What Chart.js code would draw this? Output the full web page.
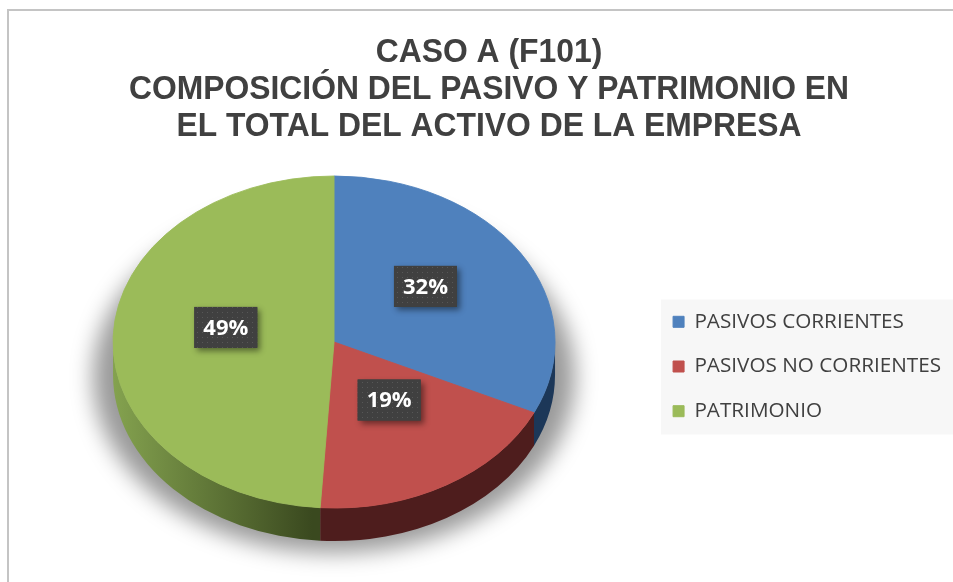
<!DOCTYPE html>
<html><head><meta charset="utf-8">
<script src="https://cdn.jsdelivr.net/npm/chart.js@4/dist/chart.umd.min.js"></script>
<style>html,body{margin:0;padding:0;background:#fff;overflow:hidden}canvas{display:block}</style>
</head><body>
<canvas id="c" width="953" height="582"></canvas>
<script>
// ---- data ----
const titleLines = ['CASO A (F101)', 'COMPOSICIÓN DEL PASIVO Y PATRIMONIO EN', 'EL TOTAL DEL ACTIVO DE LA EMPRESA'];
const categories = ['PASIVOS CORRIENTES', 'PASIVOS NO CORRIENTES', 'PATRIMONIO'];
const shares = [32, 19, 49];
const topColors = ['#4f81bd', '#c0504d', '#9bbb59'];
const sideLight = ['#24446b', '#56201f', '#84a24f'];
const sideDark = ['#1c3758', '#4e1d1d', '#3a491f'];

// ---- 3D look ----
const RADIUS = 221;
const TILT = 166 / 221;
const CENTER_Y = 342;
const DEPTH = 33;
const LABEL_FRAC = 0.49;
const LABEL_SHIFT = -12;

function dotPattern(ctx) {
  const c = document.createElement('canvas');
  c.width = 5; c.height = 5;
  const p = c.getContext('2d');
  p.fillStyle = '#404040'; p.fillRect(0, 0, 5, 5);
  p.fillStyle = '#575757'; p.fillRect(2, 2, 1, 1);
  return ctx.createPattern(c, 'repeat');
}

const pie3d = {
  id: 'pie3d',
  beforeDraw(chart) {
    const ctx = chart.ctx;
    ctx.save();
    ctx.fillStyle = '#ffffff';
    ctx.fillRect(0, 0, chart.width, chart.height);
    // chart frame
    ctx.fillStyle = '#c4c4c4';
    ctx.fillRect(7, 9, chart.width - 7, 2);
    ctx.fillRect(7, 9, 2, chart.height - 9);
    // legend panel
    const lg = chart.legend;
    if (lg && lg.legendHitBoxes && lg.legendHitBoxes.length) {
      const hb = lg.legendHitBoxes;
      const f = hb[0], l = hb[hb.length - 1];
      ctx.fillStyle = '#f7f7f7';
      ctx.fillRect(f.left - 12, f.top - 12, chart.width - f.left + 12, l.top + l.height - f.top + 25);
    }
    // title (slightly condensed bold sans)
    ctx.fillStyle = '#404040';
    ctx.font = 'bold 33px "Liberation Sans", Arial, sans-serif';
    ctx.textAlign = 'center';
    ctx.textBaseline = 'alphabetic';
    titleLines.forEach((t, i) => {
      ctx.save();
      ctx.translate(489, 62 + i * 37);
      ctx.scale(0.965, 1);
      ctx.fillText(t, 0, 0);
      ctx.restore();
    });
    ctx.restore();
  },
  beforeDatasetsDraw(chart) {
    const ctx = chart.ctx;
    const arcs = chart.getDatasetMeta(0).data;
    if (!arcs.length) return;
    const cx = arcs[0].x, R = arcs[0].outerRadius, RY = R * TILT;
    ctx.save();
    // soft shadow under the pie (shape drawn off-canvas, only its shadow lands here)
    ctx.save();
    const OFF = 3000;
    ctx.shadowColor = 'rgba(0,0,0,0.40)';
    ctx.shadowBlur = 22;
    ctx.shadowOffsetX = OFF;
    ctx.shadowOffsetY = 0;
    ctx.fillStyle = '#000';
    ctx.beginPath();
    ctx.ellipse(cx - OFF, CENTER_Y + DEPTH + 2, R + 20, RY + 10, 0, 0, Math.PI * 2);
    ctx.fill();
    ctx.restore();
    // side walls (front half)
    arcs.forEach((arc, i) => {
      const a1 = Math.max(arc.startAngle, 0);
      const a2 = Math.min(arc.endAngle, Math.PI);
      if (a2 <= a1) return;
      const g = ctx.createLinearGradient(cx - R, 0, cx + R, 0);
      g.addColorStop(0, sideLight[i]);
      g.addColorStop(0.45, sideDark[i]);
      g.addColorStop(1, sideDark[i]);
      ctx.fillStyle = g;
      ctx.beginPath();
      ctx.ellipse(cx, CENTER_Y, R, RY, 0, a1, a2);
      ctx.lineTo(cx + R * Math.cos(a2), CENTER_Y + DEPTH + RY * Math.sin(a2));
      ctx.ellipse(cx, CENTER_Y + DEPTH, R, RY, 0, a2, a1, true);
      ctx.closePath();
      ctx.fill();
    });
    ctx.restore();
    // squash the top face
    ctx.save();
    ctx.translate(0, CENTER_Y);
    ctx.scale(1, TILT);
    ctx.translate(0, -arcs[0].y);
  },
  afterDatasetsDraw(chart) {
    const ctx = chart.ctx;
    ctx.restore();
    const arcs = chart.getDatasetMeta(0).data;
    const vals = chart.data.datasets[0].data;
    const pat = dotPattern(ctx);
    arcs.forEach((arc, i) => {
      const mid = (arc.startAngle + arc.endAngle) / 2;
      const R = arc.outerRadius;
      const x = arc.x + Math.cos(mid) * R * LABEL_FRAC;
      const y = CENTER_Y + Math.sin(mid) * R * TILT * LABEL_FRAC + LABEL_SHIFT;
      const w = 63, h = 41;
      ctx.save();
      ctx.shadowColor = 'rgba(0,0,0,0.45)';
      ctx.shadowBlur = 6;
      ctx.shadowOffsetX = 3;
      ctx.shadowOffsetY = 3;
      ctx.fillStyle = '#404040';
      ctx.fillRect(x - w / 2, y - h / 2, w, h);
      ctx.restore();
      ctx.save();
      ctx.fillStyle = pat;
      ctx.fillRect(x - w / 2, y - h / 2, w, h);
      ctx.fillStyle = '#ffffff';
      ctx.font = 'bold 22px "Open Sans", sans-serif';
      ctx.textAlign = 'center';
      ctx.textBaseline = 'middle';
      ctx.fillText(vals[i] + '%', x, y + 1);
      ctx.restore();
    });
  }
};

new Chart(document.getElementById('c'), {
  type: 'pie',
  data: {
    labels: categories,
    datasets: [{
      data: shares,
      backgroundColor: topColors,
      borderColor: topColors,
      borderWidth: 1,
      radius: RADIUS
    }]
  },
  plugins: [pie3d],
  options: {
    responsive: false,
    animation: false,
    events: [],
    layout: { padding: { top: 151, left: 19, right: 2, bottom: 0 } },
    plugins: {
      tooltip: { enabled: false },
      title: { display: false, text: titleLines },
      legend: {
        position: 'right',
        align: 'center',
        fullSize: true,
        labels: {
          color: '#404040',
          font: { family: '"Open Sans", sans-serif', size: 20.7 },
          boxWidth: 11,
          boxHeight: 11,
          padding: 24
        }
      }
    }
  }
});
</script>
</body></html>
